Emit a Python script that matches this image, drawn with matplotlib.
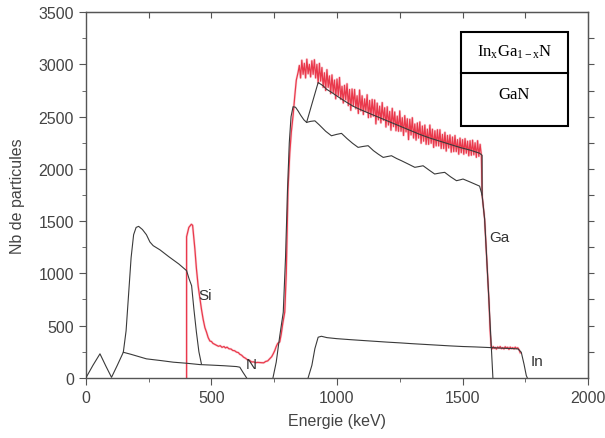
import matplotlib
matplotlib.use("Agg")
import matplotlib.pyplot as plt
from matplotlib.patches import Rectangle

plt.rcParams.update({"font.family": "Liberation Sans", "font.size": 11,
                     "mathtext.fontset": "custom", "mathtext.rm": "Liberation Serif",
                     "mathtext.it": "Liberation Serif:italic"})

# --- simulated partial spectra (keV, counts) ---
si_e = [0, 28, 56, 80, 102, 125, 149, 160, 170, 180, 190, 200, 210, 225, 241, 255, 268, 295, 330, 370, 401, 411, 421, 430, 440, 450, 460]
si_n = [0, 120, 230, 110, 5, 120, 245, 450, 800, 1150, 1370, 1440, 1450, 1420, 1370, 1300, 1265, 1225, 1160, 1090, 1026, 947, 882, 660, 440, 250, 134]

n_e = [149, 180, 241, 300, 348, 400, 454, 500, 550, 600, 613, 625, 640]
n_n = [245, 225, 182, 165, 150, 140, 127, 122, 116, 108, 102, 55, 0]

ga_e = [745, 758, 772, 786, 795, 803, 810, 817, 825, 835, 845, 855, 868, 879, 895, 912, 930, 955, 978, 998, 1018,
        1040, 1062, 1084, 1104, 1124, 1145, 1165, 1184, 1200, 1217, 1237, 1257, 1285, 1310, 1326, 1343, 1366, 1389,
        1409, 1429, 1452, 1476, 1490, 1502, 1525, 1549, 1568, 1578, 1588, 1605, 1621]
ga_n = [0, 150, 400, 628, 1150, 1800, 2250, 2500, 2595, 2590, 2555, 2515, 2470, 2445, 2455, 2460, 2420, 2360, 2317, 2330, 2340,
        2290, 2245, 2206, 2215, 2222, 2175, 2140, 2110, 2118, 2126, 2100, 2078, 2045, 2015, 2022, 2030, 1990, 1951,
        1960, 1967, 1925, 1887, 1895, 1903, 1880, 1855, 1835, 1750, 1520, 750, 0]

in_e = [885, 900, 912, 925, 938, 960, 1000, 1051, 1100, 1150, 1200, 1250, 1300, 1350, 1400, 1450, 1500, 1550, 1608, 1650, 1700, 1721, 1734, 1745, 1754, 1758]
in_n = [0, 120, 280, 389, 398, 385, 375, 366, 358, 350, 342, 335, 327, 320, 313, 306, 300, 296, 290, 285, 280, 277, 245, 130, 22, 0]

fit_e = [879, 900, 925, 945, 958, 980, 998, 1030, 1064, 1091, 1130, 1170, 1210, 1250, 1290, 1330, 1370, 1410, 1450, 1490, 1530, 1568, 1578, 1578]
fit_n = [2445, 2620, 2827, 2795, 2763, 2730, 2700, 2650, 2600, 2570, 2530, 2490, 2450, 2410, 2370, 2330, 2295, 2265, 2235, 2205, 2180, 2150, 2130, 1750]

# --- measured spectrum ---
exp_e = [401, 401, 410, 420, 425, 430, 434, 440, 447, 455, 460, 467, 474, 480, 487, 494, 500, 506, 512, 520, 528, 535,
         542, 550, 556, 562, 570, 578, 585, 592, 600, 607, 613, 620, 628, 636, 644, 652, 660, 668, 676, 684, 692, 700,
         708, 716, 724, 732, 740, 746, 752, 758, 764, 772, 778, 784, 792, 798, 805, 812, 818, 825, 832, 838, 845,
         850, 855, 860, 865, 870, 875, 880, 885, 890, 895, 900, 905, 910, 915, 920, 925, 930, 935, 940, 945,
         950, 955, 960, 965, 970, 975, 980, 985, 990, 995, 1000, 1005, 1010, 1015, 1020, 1025, 1030, 1035, 1040, 1045,
         1050, 1055, 1060, 1065, 1070, 1075, 1080, 1085, 1090, 1095, 1100, 1105, 1110, 1115, 1120, 1125, 1130, 1135, 1140, 1145,
         1150, 1155, 1160, 1165, 1170, 1175, 1180, 1185, 1190, 1195, 1200, 1205, 1210, 1215, 1220, 1225, 1230, 1235, 1240, 1245,
         1250, 1255, 1260, 1265, 1270, 1275, 1280, 1285, 1290, 1295, 1300, 1305, 1310, 1315, 1320, 1325, 1330, 1335, 1340, 1345,
         1350, 1355, 1360, 1365, 1370, 1375, 1380, 1385, 1390, 1395, 1400, 1405, 1410, 1415, 1420, 1425, 1430, 1435, 1440, 1445,
         1450, 1455, 1460, 1465, 1470, 1475, 1480, 1485, 1490, 1495, 1500, 1505, 1510, 1515, 1520, 1525, 1530, 1535, 1540, 1545,
         1550, 1555, 1560, 1565, 1570, 1575, 1578, 1588, 1605, 1610, 1614,
         1618, 1622, 1626, 1630, 1635, 1640, 1645, 1650, 1655, 1660, 1665, 1670, 1675, 1680, 1685, 1690, 1695,
         1700, 1705, 1710, 1715, 1720, 1725, 1730]
exp_n = [0, 1350, 1440, 1470, 1460, 1330, 1234, 1050, 880, 740, 660, 560, 480, 440, 385, 352, 348, 330, 322, 312, 302, 308,
         292, 300, 286, 294, 278, 276, 262, 260, 246, 242, 226, 217, 198, 187, 172, 167, 152, 153, 145, 148, 146, 145,
         144, 157, 162, 182, 203, 230, 260, 300, 330, 344, 420, 520, 630, 1000, 1807, 2150, 2350, 2508, 2700, 2850, 2923,
         2990, 2870, 3040, 2905, 3010, 2870, 3050, 2910, 3000, 2880, 3035, 2905, 3045, 2870, 3000, 2820, 3010, 2840, 2970, 2780,
         2920, 2750, 2950, 2780, 2890, 2720, 2900, 2730, 2850, 2670, 2860, 2700, 2875, 2665, 2790, 2630, 2800, 2660, 2815, 2605,
         2760, 2560, 2765, 2605, 2760, 2575, 2700, 2530, 2755, 2555, 2700, 2520, 2670, 2550, 2710, 2490, 2655, 2495, 2665, 2505,
         2660, 2430, 2630, 2470, 2600, 2440, 2635, 2465, 2585, 2400, 2595, 2420, 2550, 2370, 2580, 2405, 2545, 2365, 2505, 2360,
         2555, 2360, 2490, 2320, 2510, 2355, 2480, 2280, 2475, 2325, 2490, 2295, 2430, 2275, 2440, 2295, 2450, 2245, 2410, 2265,
         2420, 2235, 2380, 2235, 2420, 2245, 2380, 2205, 2365, 2220, 2375, 2220, 2375, 2195, 2330, 2195, 2350, 2170, 2320, 2200,
         2325, 2160, 2305, 2165, 2320, 2165, 2280, 2140, 2295, 2155, 2280, 2140, 2290, 2150, 2265, 2125, 2270, 2130, 2275, 2135,
         2250, 2110, 2270, 2120, 2235, 2130, 1750, 1520, 750, 450, 300,
         278, 300, 282, 292, 275, 296, 284, 300, 279, 290, 276, 298, 283, 293, 272, 295, 280,
         290, 277, 294, 281, 288, 270, 240]

labels = [("Si", 474, 794), ("N", 660, 134), ("Ga", 1648, 1348), ("In", 1795, 165)]

fig = plt.figure(figsize=(6.05, 4.39), dpi=100)
ax = fig.add_axes([0.142, 0.137, 0.830, 0.833])
blk = "#3a3a3a"
ax.plot(exp_e, exp_n, color="#f07a8a", lw=1.8, alpha=0.3, zorder=2)
ax.plot(exp_e, exp_n, color="#e8283c", lw=0.9, alpha=0.9, zorder=2)
for e, n in [(si_e, si_n), (n_e, n_n), (ga_e, ga_n), (in_e, in_n), (fit_e, fit_n)]:
    ax.plot(e, n, color=blk, lw=0.8, zorder=3)
for t, x, y in labels:
    ax.text(x, y, t, ha="center", va="center", fontsize=11, color="#333333")

ax.set_xlim(0, 2000); ax.set_ylim(0, 3500)
ax.set_xticks(range(0, 2001, 500)); ax.set_xticks(range(250, 2000, 500), minor=True)
ax.set_yticks(range(0, 3501, 500)); ax.set_yticks(range(250, 3500, 500), minor=True)
ax.tick_params(which="major", direction="out", length=5, color="#555555", labelcolor="#444444", labelsize=11.5)
ax.tick_params(which="minor", direction="out", length=3, color="#555555")
for s in ax.spines.values():
    s.set_color("#555555"); s.set_linewidth(1.0)
top = ax.secondary_xaxis("top")
top.set_xticks(range(250, 2000, 250)); top.tick_params(direction="in", length=4, labeltop=False, color="#555555")
right = ax.secondary_yaxis("right")
right.set_yticks(range(250, 3500, 250)); right.tick_params(direction="out", length=4, labelright=False, color="#555555")
for sec in (top, right):
    for s in sec.spines.values():
        s.set_color("#555555")
ax.set_xlabel("Energie (keV)", color="#444444", fontsize=11.5, labelpad=6)
ax.set_ylabel("Nb de particules", color="#444444", fontsize=11.5, labelpad=10)

# layer stack inset
ax.add_patch(Rectangle((0.746, 0.688), 0.214, 0.258, transform=ax.transAxes, fill=False, lw=1.5, ec="black", zorder=5))
ax.plot([0.746, 0.960], [0.835, 0.835], transform=ax.transAxes, color="black", lw=1.5, zorder=5)
ax.text(0.853, 0.892, r"In$_\mathrm{x}$Ga$_\mathrm{1-x}$N", transform=ax.transAxes, ha="center", va="center",
        family="Liberation Serif", fontsize=12)
ax.text(0.853, 0.776, "GaN", transform=ax.transAxes, ha="center", va="center", family="Liberation Serif", fontsize=12)

fig.savefig("out.png", dpi=100)
